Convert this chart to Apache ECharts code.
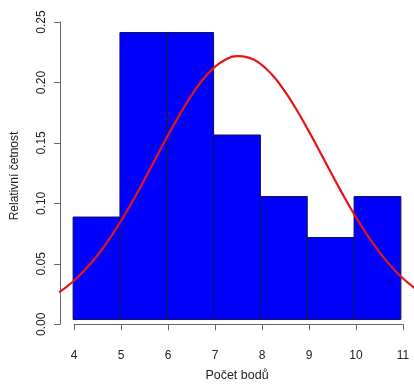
<!DOCTYPE html>
<html>
<head>
<meta charset="utf-8">
<script src="https://cdn.jsdelivr.net/npm/echarts@6/dist/echarts.min.js"></script>
<style>
  html, body { margin: 0; padding: 0; background: #fff; }
  #main { width: 414px; height: 387px; }
</style>
</head>
<body>
<div id="main"></div>
<script>
// histogram bins (Počet bodů) and relative frequencies
var binStart = [4, 5, 6, 7, 8, 9, 10];
var binEnd = [5, 6, 7, 8, 9, 10, 11];
var relFreq = [0.0862, 0.2414, 0.2414, 0.1552, 0.1034, 0.0690, 0.1034];

// red density curve
var curveX = [3.7, 4.0, 4.25, 4.5, 4.75, 5.0, 5.25, 5.5, 5.75, 6.0, 6.25, 6.5, 6.75, 7.0, 7.25, 7.5,
  7.75, 8.0, 8.25, 8.5, 8.75, 9.0, 9.25, 9.5, 9.75, 10.0, 10.25, 10.5, 10.75, 11.0, 11.3];
var curveY = [0.0228, 0.0320, 0.0416, 0.0530, 0.0664, 0.0814, 0.0982, 0.1160, 0.1345, 0.1531, 0.1707,
  0.1869, 0.2008, 0.2115, 0.2185, 0.2215, 0.2203, 0.2150, 0.2058, 0.1932, 0.1779, 0.1608, 0.1426,
  0.1240, 0.1059, 0.0888, 0.0729, 0.0589, 0.0466, 0.0362, 0.0262];

var xTicks = [4, 5, 6, 7, 8, 9, 10, 11];
var yTicks = [0, 0.05, 0.10, 0.15, 0.20, 0.25];

var chart = echarts.init(document.getElementById('main'));

var barData = [];
for (var i = 0; i < relFreq.length; i++) {
  barData.push([binStart[i], binEnd[i], relFreq[i]]);
}
var lineData = [];
for (var j = 0; j < curveX.length; j++) {
  lineData.push([curveX[j], curveY[j]]);
}

var font = 'Liberation Sans, Arial, sans-serif';
var textCol = '#222';
var lineCol = '#666';

var option = {
  animation: false,
  backgroundColor: '#fff',
  grid: [
    // plot region (R usr coordinates)
    { left: 60, top: 21, width: 356, height: 315 },
    // axes drawn only over the tick range, like R
    { left: 74, top: 22, width: 329, height: 302.3 }
  ],
  xAxis: [
    {
      gridIndex: 0, type: 'value', min: 3.72, max: 11.28,
      axisLine: { show: false }, axisTick: { show: false },
      axisLabel: { show: false }, splitLine: { show: false },
      name: 'Počet bodů', nameLocation: 'middle', nameGap: 38,
      nameTextStyle: { fontFamily: font, fontSize: 12.5, color: textCol }
    },
    {
      gridIndex: 1, type: 'value', min: 4, max: 11, interval: 1,
      position: 'bottom', offset: 12,
      axisLine: { show: true, lineStyle: { color: lineCol, width: 1 } },
      axisTick: { show: true, inside: false, length: 6, lineStyle: { color: lineCol } },
      axisLabel: {
        fontFamily: font, fontSize: 12, color: textCol, margin: 13,
        formatter: function (v) { return xTicks.indexOf(v) >= 0 ? String(v) : ''; }
      },
      splitLine: { show: false }
    }
  ],
  yAxis: [
    {
      gridIndex: 0, type: 'value', min: -0.00966, max: 0.2511,
      axisLine: { show: false }, axisTick: { show: false },
      axisLabel: { show: false }, splitLine: { show: false },
      name: 'Relativní četnost', nameLocation: 'middle', nameGap: 39, nameRotate: 90,
      nameTextStyle: { fontFamily: font, fontSize: 12, color: textCol }
    },
    {
      gridIndex: 1, type: 'value', min: 0, max: 0.25, interval: 0.05,
      position: 'left', offset: 14,
      axisLine: { show: true, lineStyle: { color: lineCol, width: 1 } },
      axisTick: { show: true, inside: false, length: 6, lineStyle: { color: lineCol } },
      axisLabel: {
        fontFamily: font, fontSize: 12, color: textCol, margin: 12, rotate: 90,
        formatter: function (v) { return v.toFixed(2); }
      },
      splitLine: { show: false }
    }
  ],
  series: [
    {
      type: 'custom',
      xAxisIndex: 0, yAxisIndex: 0,
      data: barData,
      renderItem: function (params, api) {
        var p0 = api.coord([api.value(0), api.value(2)]);
        var p1 = api.coord([api.value(1), 0]);
        return {
          type: 'rect',
          shape: { x: p0[0], y: p0[1], width: p1[0] - p0[0], height: p1[1] - p0[1] },
          style: { fill: '#0000ff', stroke: '#10105a', lineWidth: 1 }
        };
      }
    },
    {
      type: 'line',
      xAxisIndex: 0, yAxisIndex: 0,
      data: lineData,
      smooth: true,
      showSymbol: false,
      clip: true,
      lineStyle: { color: '#e81414', width: 2.2 }
    }
  ]
};

chart.setOption(option);
</script>
</body>
</html>
